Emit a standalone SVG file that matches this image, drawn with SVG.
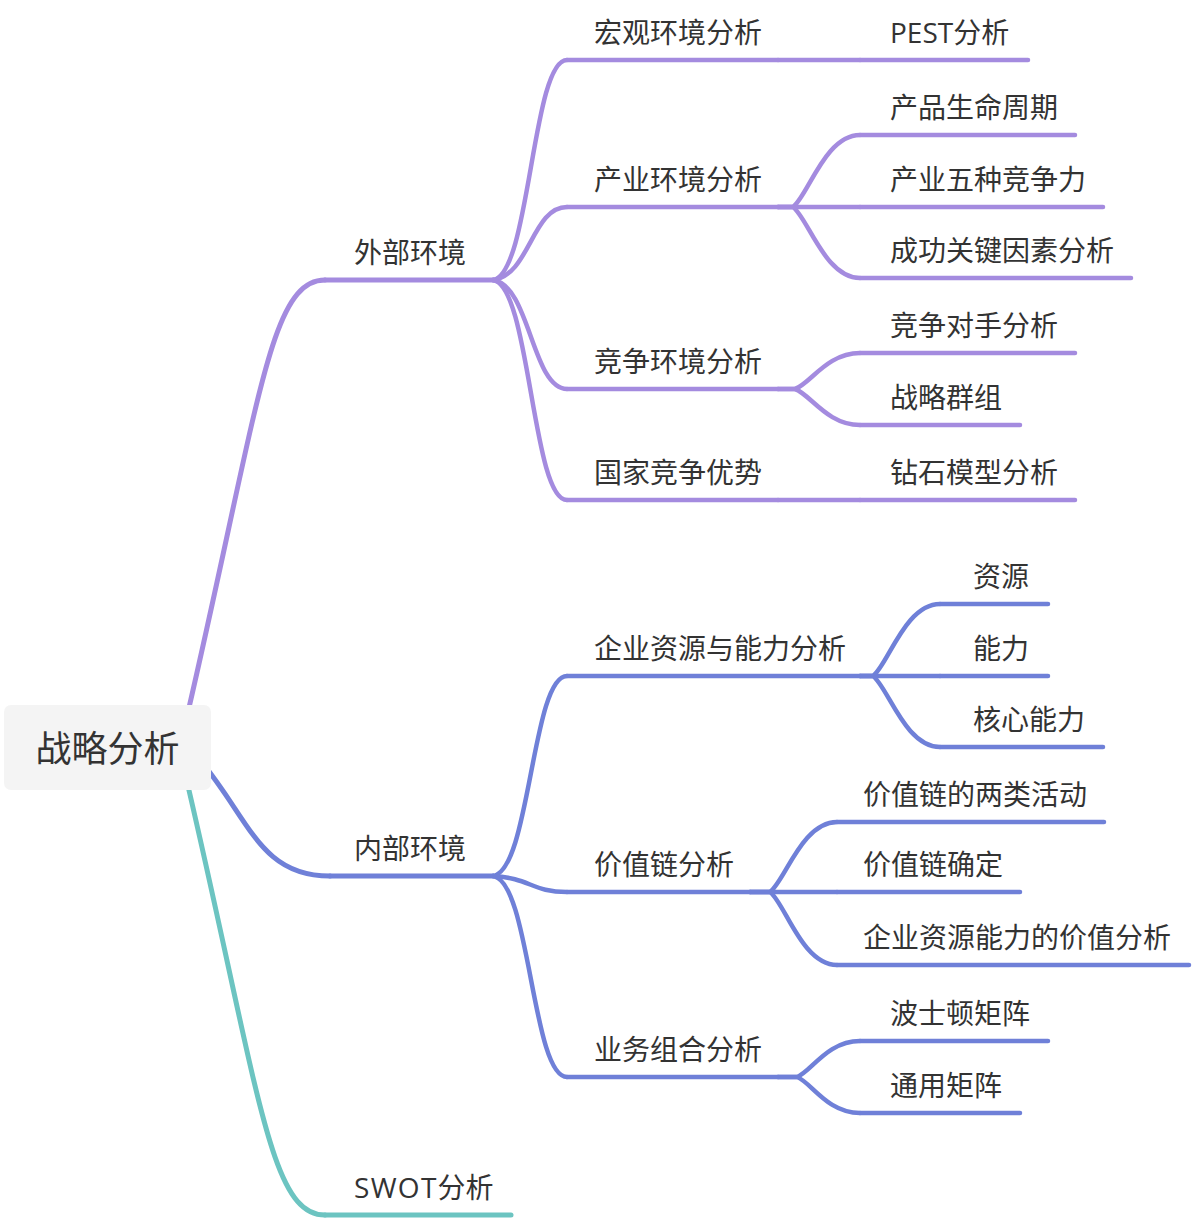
<svg xmlns="http://www.w3.org/2000/svg" width="1192" height="1220" viewBox="0 0 1192 1220">
<style>
text{font-family:"Open Sans","Noto Sans CJK SC",sans-serif;font-size:28px;fill:#333333}
.root{font-size:36px;text-anchor:middle}
path,line{fill:none;stroke-width:4.5;stroke-linecap:round;stroke-linejoin:round}
.l1{stroke-width:5}
.p{stroke:#A48BDF}
.b{stroke:#6F80D8}
.t{stroke:#6CC4C1}
</style>
<rect width="1192" height="1220" fill="#ffffff"/>
<g id="connectors">
<path class="p l1" d="M188 712 C260 400 270 280 325 280"/>
<path class="b l1" d="M200 760 C250 820 260 876 330 876"/>
<path class="t l1" d="M188 786 C260 1096 270 1215 325 1215"/>
<path class="p" d="M493 280 C530 275 532 60 567 60"/>
<path class="p" d="M493 280 C530 275 532 207 567 207"/>
<path class="p" d="M493 280 C530 285 532 389 567 389"/>
<path class="p" d="M493 280 C530 285 532 500 567 500"/>
<path class="p" d="M778 60 L860 60"/>
<path class="p" d="M778 207 L793 207 C808 196 825 135 860 135"/>
<path class="p" d="M778 207 L860 207"/>
<path class="p" d="M778 207 L793 207 C808 218 825 278 860 278"/>
<path class="p" d="M778 389 L795 389 C810 384 827 353 860 353"/>
<path class="p" d="M778 389 L795 389 C810 394 827 425 860 425"/>
<path class="p" d="M778 500 L860 500"/>
<path class="b" d="M493 876 C530 871 532 676 567 676"/>
<path class="b" d="M493 876 C530 878 532 892 567 892"/>
<path class="b" d="M493 876 C530 881 532 1077 567 1077"/>
<path class="b" d="M860 676 L873 676 C888 665 905 604 940 604"/>
<path class="b" d="M860 676 L940 676"/>
<path class="b" d="M860 676 L873 676 C888 687 905 747 940 747"/>
<path class="b" d="M750 892 L770 892 C785 881 802 822 837 822"/>
<path class="b" d="M750 892 L837 892"/>
<path class="b" d="M750 892 L770 892 C785 903 802 965 837 965"/>
<path class="b" d="M778 1077 L797 1077 C811 1072 827 1041 860 1041"/>
<path class="b" d="M778 1077 L797 1077 C811 1082 827 1113 860 1113"/>
</g>
<g id="root">
<rect x="4" y="705" width="207" height="85" rx="7" fill="#F4F4F4"/>
<text class="root" x="107.5" y="762">战略分析</text>
</g>
<g id="n-waibu"><line class="p l1" x1="325" y1="280" x2="493" y2="280"/><text x="354" y="263">外部环境</text></g>
<g id="n-neibu"><line class="b l1" x1="330" y1="876" x2="493" y2="876"/><text x="354" y="859">内部环境</text></g>
<g id="n-swot"><line class="t l1" x1="325" y1="1215" x2="511" y2="1215"/><text x="354" y="1198"><tspan letter-spacing="1.3">SWOT</tspan>分析</text></g>
<g id="n-hongguan"><line class="p" x1="567" y1="60" x2="778" y2="60"/><text x="594" y="43">宏观环境分析</text></g>
<g id="n-chanye"><line class="p" x1="567" y1="207" x2="778" y2="207"/><text x="594" y="190">产业环境分析</text></g>
<g id="n-jingzheng"><line class="p" x1="567" y1="389" x2="778" y2="389"/><text x="594" y="372">竞争环境分析</text></g>
<g id="n-guojia"><line class="p" x1="567" y1="500" x2="778" y2="500"/><text x="594" y="483">国家竞争优势</text></g>
<g id="n-pest"><line class="p" x1="860" y1="60" x2="1028" y2="60"/><text x="890" y="43">PEST分析</text></g>
<g id="n-shengming"><line class="p" x1="860" y1="135" x2="1075" y2="135"/><text x="890" y="118">产品生命周期</text></g>
<g id="n-wuzhong"><line class="p" x1="860" y1="207" x2="1103" y2="207"/><text x="890" y="190">产业五种竞争力</text></g>
<g id="n-chenggong"><line class="p" x1="860" y1="278" x2="1131" y2="278"/><text x="890" y="261">成功关键因素分析</text></g>
<g id="n-duishou"><line class="p" x1="860" y1="353" x2="1075" y2="353"/><text x="890" y="336">竞争对手分析</text></g>
<g id="n-qunzu"><line class="p" x1="860" y1="425" x2="1020" y2="425"/><text x="890" y="408">战略群组</text></g>
<g id="n-zuanshi"><line class="p" x1="860" y1="500" x2="1075" y2="500"/><text x="890" y="483">钻石模型分析</text></g>
<g id="n-qiye"><line class="b" x1="567" y1="676" x2="860" y2="676"/><text x="594" y="659">企业资源与能力分析</text></g>
<g id="n-jiazhilian"><line class="b" x1="567" y1="892" x2="750" y2="892"/><text x="594" y="875">价值链分析</text></g>
<g id="n-yewu"><line class="b" x1="567" y1="1077" x2="778" y2="1077"/><text x="594" y="1060">业务组合分析</text></g>
<g id="n-ziyuan"><line class="b" x1="940" y1="604" x2="1048" y2="604"/><text x="973" y="587">资源</text></g>
<g id="n-nengli"><line class="b" x1="940" y1="676" x2="1048" y2="676"/><text x="973" y="659">能力</text></g>
<g id="n-hexin"><line class="b" x1="940" y1="747" x2="1103" y2="747"/><text x="973" y="730">核心能力</text></g>
<g id="n-liangl"><line class="b" x1="837" y1="822" x2="1104" y2="822"/><text x="863" y="805">价值链的两类活动</text></g>
<g id="n-queding"><line class="b" x1="837" y1="892" x2="1020" y2="892"/><text x="863" y="875">价值链确定</text></g>
<g id="n-jiazhifenxi"><line class="b" x1="837" y1="965" x2="1189" y2="965"/><text x="863" y="948">企业资源能力的价值分析</text></g>
<g id="n-boshidun"><line class="b" x1="860" y1="1041" x2="1048" y2="1041"/><text x="890" y="1024">波士顿矩阵</text></g>
<g id="n-tongyong"><line class="b" x1="860" y1="1113" x2="1020" y2="1113"/><text x="890" y="1096">通用矩阵</text></g>
</svg>
